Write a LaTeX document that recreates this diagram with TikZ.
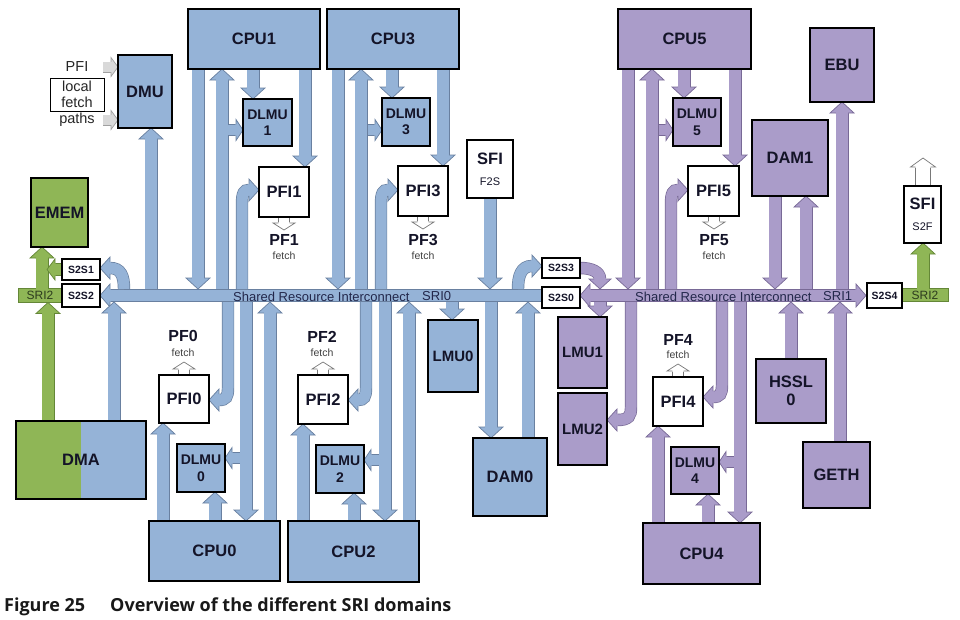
\documentclass[tikz,border=0pt]{standalone}
\usepackage{fontspec}
\setmainfont{Liberation Sans}
\newfontfamily\capfont{Open Sans}
\definecolor{bF}{RGB}{149,179,215}
\definecolor{bD}{RGB}{105,128,160}
\definecolor{pF}{RGB}{170,156,201}
\definecolor{pD}{RGB}{120,105,150}
\definecolor{gF}{RGB}{143,182,86}
\definecolor{gD}{RGB}{100,135,55}
\definecolor{yF}{RGB}{217,217,217}
\definecolor{yD}{RGB}{160,160,160}
\definecolor{wD}{RGB}{120,120,120}
\definecolor{txt}{RGB}{20,20,40}
\definecolor{busT}{RGB}{35,40,75}
\definecolor{grT}{RGB}{45,60,30}
\tikzset{
 bx/.style={draw=black, line width=1.3pt, inner sep=0pt, align=center, text=txt, font=\fontsize{16.5}{18}\selectfont\bfseries},
 dl/.style={font=\fontsize{14}{16.5}\selectfont\bfseries},
 ss/.style={line width=1.1pt, font=\fontsize{10.5}{12}\selectfont\bfseries},
 lm/.style={font=\fontsize{15}{17}\selectfont\bfseries},
 lbl/.style={inner sep=0pt, text=txt, font=\fontsize{16}{18}\selectfont\bfseries},
 fet/.style={inner sep=0pt, text=black!75, font=\fontsize{10.5}{12}\selectfont},
 bustxt/.style={inner sep=0pt, text=busT, font=\fontsize{13}{15}\selectfont, anchor=west},
 side/.style={inner sep=0pt, text=black!85, font=\fontsize{14.5}{16}\selectfont},
 captxt/.style={anchor=base west, inner sep=0pt, text=black!90, font=\capfont\bfseries\fontsize{18}{20}\selectfont},
}
% arrow head: fill, draw, x, y, angle, half body, half head, length
\newcommand{\Head}[8]{%
 \begin{scope}[shift={(#3,#4)},rotate=#5]
 \fill[#1] (-#8-0.8,-#6) -- (-#8,-#6) -- (-#8,-#7) -- (0,0) -- (-#8,#7) -- (-#8,#6) -- (-#8-0.8,#6) -- cycle;
 \draw[#2,line width=0.7pt,line join=miter] (-#8,-#6) -- (-#8,-#7) -- (0,0) -- (-#8,#7) -- (-#8,#6);
 \end{scope}}
% straight block arrow: fill, draw, x1,y1, x2,y2 (tip), half body, half head, head length
\newcommand{\SA}[9]{%
 \pgfmathsetmacro{\saL}{veclen(#5-#3,#6-#4)}%
 \pgfmathsetmacro{\saX}{#5-#9*(#5-#3)/\saL}%
 \pgfmathsetmacro{\saY}{#6-#9*(#6-#4)/\saL}%
 \pgfmathsetmacro{\saA}{atan2(#4-#6,#5-#3)}%
 \pgfmathsetmacro{\saD}{2*#7-1.4}%
 \pgfmathsetmacro{\saW}{#7-0.35}%
 \draw[draw=#2, double=#1, double distance=\saD pt, line width=0.7pt] (#3,#4) -- (\saX,\saY);
 \Head{#1}{#2}{#5}{#6}{\saA}{\saW}{#8}{#9}}
\newcommand{\VA}[4][b]{\SA{#1F}{#1D}{#2}{#3}{#2}{#4}{6.5}{12}{11}}
% curved block arrow: fill, draw, path, tip x, tip y, angle
\newcommand{\CA}[6]{%
 \draw[draw=#2,double=#1,double distance=11pt,line width=0.7pt] #3;
 \Head{#1}{#2}{#4}{#5}{#6}{5.85}{11}{10}}
\newcommand{\Bx}[7][]{\node[bx,#1,minimum width={#5-#3},minimum height={#6-#4}] (#2) at ({(#3+#5)/2},{(#4+#6)/2}) {#7};}
\begin{document}
\begin{tikzpicture}[x=1pt,y=-1pt]
\useasboundingbox (0,0) rectangle (960,619);
\fill[white] (0,0) rectangle (960,619);
% ---------- buses ----------
\draw[draw=bD,double=bF,double distance=11.6pt,line width=0.7pt] (542,295.5) -- (110,295.5);
\Head{bF}{bD}{100}{295.5}{180}{6.15}{11.5}{10}
\draw[draw=pD,double=pF,double distance=11.6pt,line width=0.7pt] (590,295.5) -- (856,295.5);
\Head{pF}{pD}{580}{295.5}{180}{6.15}{11.5}{10}
\Head{pF}{pD}{866}{295.5}{0}{6.15}{11.5}{10}
\draw[gD,fill=gF,line width=0.6pt] (18,288.5) rectangle (62,302.5);
\draw[gD,fill=gF,line width=0.6pt] (902,288.5) rectangle (948,301.5);
% ---------- blue arrows above SRI0 ----------
\VA{198}{69}{289}
\VA{222}{289}{69}
\VA{253}{69}{99}
\VA{305}{69}{167}
\SA{bF}{bD}{228}{130}{243}{130}{6}{10.5}{7}
\CA{bF}{bD}{(242,289) -- (242,204) .. controls (242,193) and (244,190) .. (249,190)}{259}{190}{0}
\VA{338}{69}{289}
\VA{361}{289}{69}
\VA{392}{69}{98}
\VA{443}{69}{166}
\SA{bF}{bD}{367.5}{130}{382}{130}{6}{10.5}{7}
\CA{bF}{bD}{(381,289) -- (381,204) .. controls (381,193) and (383,190) .. (388,190)}{398}{190}{0}
\VA{151}{289}{128}
\VA{490}{198}{289}
\CA{bF}{bD}{(124,289) .. controls (124,276) and (121,268) .. (110,268)}{100}{268}{180}
\CA{bF}{bD}{(518,289) .. controls (518,276) and (521,266) .. (532,266)}{542}{266}{0}
% ---------- blue arrows below SRI0 ----------
\VA{114}{421}{302}
\CA{bF}{bD}{(228,302) -- (228,388) .. controls (228,397) and (226,400) .. (219,400)}{209}{400}{180}
\VA{246}{302}{521}
\SA{bF}{bD}{239.5}{458}{225}{458}{6}{10.5}{7}
\VA{270}{521}{302}
\VA{163}{521}{423}
\VA{215}{521}{492}
\CA{bF}{bD}{(366,302) -- (366,388) .. controls (366,397) and (364,400) .. (358,400)}{348}{400}{180}
\VA{385}{302}{521}
\SA{bF}{bD}{378.5}{460}{364}{460}{6}{10.5}{7}
\VA{409}{521}{302}
\VA{303}{521}{424}
\VA{354}{521}{493}
\VA{452}{302}{320}
\VA{491}{302}{438}
\VA{528}{438}{302}
% ---------- purple arrows ----------
\VA[p]{628}{69}{289}
\VA[p]{652}{289}{69}
\VA[p]{684}{69}{98}
\VA[p]{735}{69}{166}
\SA{pF}{pD}{658.5}{130}{673}{130}{6}{10.5}{7}
\CA{pF}{pD}{(671,289) -- (671,204) .. controls (671,193) and (673,190) .. (678,190)}{688}{190}{0}
\VA[p]{775}{196}{289}
\VA[p]{806}{289}{196}
\VA[p]{842}{289}{102}
\CA{pF}{pD}{(580,268) .. controls (592,268) and (600,272) .. (600,279)}{600}{289}{-90}
\VA[p]{600}{302}{317}
\CA{pF}{pD}{(631,302) -- (631,407) .. controls (631,416) and (629,420) .. (617,420)}{607}{420}{180}
\CA{pF}{pD}{(722,302) -- (722,385) .. controls (722,394) and (720,397) .. (713,397)}{703}{397}{180}
\VA[p]{740}{302}{523}
\SA{pF}{pD}{733.5}{462}{719}{462}{6}{10.5}{7}
\VA[p]{658}{523}{426}
\VA[p]{708}{523}{494}
\VA[p]{791}{359}{302}
\VA[p]{840}{442}{302}
% ---------- green arrows ----------
\VA[g]{42}{288.5}{247}
\VA[g]{48}{421}{302.5}
\SA{gF}{gD}{62}{269.5}{47}{269.5}{6.5}{10.5}{8}
\VA[g]{923}{288.5}{243}
% ---------- white fetch arrows ----------
\SA{white}{wD}{284}{217}{284}{230}{6}{11}{7}
\SA{white}{wD}{423}{216}{423}{229}{6}{11}{7}
\SA{white}{wD}{714}{216}{714}{229}{6}{11}{7}
\SA{white}{wD}{184}{375}{184}{362}{6}{11}{7}
\SA{white}{wD}{323}{375}{323}{362}{6}{11}{7}
\SA{white}{wD}{678}{377}{678}{364}{6}{11}{7}
\SA{white}{wD}{923}{186}{923}{158}{8}{12.5}{9}
% ---------- gray arrows into DMU ----------
\SA{yF}{yD}{103}{67}{118}{67}{5.5}{9.5}{7}
\SA{yF}{yD}{103}{120}{118}{120}{5.5}{9.5}{7}
% ---------- boxes ----------
\fill[gF] (16,421) rectangle (81,499);
\fill[bF] (81,421) rectangle (146,499);
\Bx{dma}{16}{421}{146}{499}{DMA}
\Bx[fill=bF]{cpu1}{188}{9}{320}{69}{CPU1}
\Bx[fill=bF]{cpu3}{327}{9}{459}{69}{CPU3}
\Bx[fill=pF]{cpu5}{618}{9}{751}{69}{CPU5}
\Bx[fill=bF]{dmu}{118}{55}{172}{128}{DMU}
\Bx[fill=gF]{emem}{31}{178}{88}{247}{EMEM}
\Bx[fill=bF,dl]{dlmu1}{243}{99}{292}{146}{DLMU\\1}
\Bx[fill=bF,dl]{dlmu3}{382}{98}{430}{146}{DLMU\\3}
\Bx[fill=pF,dl]{dlmu5}{673}{98}{721}{146}{DLMU\\5}
\Bx[fill=white]{pfi1}{259}{167}{309}{217}{PFI1}
\Bx[fill=white]{pfi3}{398}{166}{448}{216}{PFI3}
\Bx[fill=white]{pfi5}{688}{166}{739}{216}{PFI5}
\Bx[fill=white]{sfif}{467}{140}{513}{198}{SFI\\[3pt]{\fontsize{11}{12}\selectfont\mdseries F2S}}
\Bx[fill=pF]{dam1}{752}{120}{828}{196}{DAM1}
\Bx[fill=pF]{ebu}{810}{28}{874}{102}{EBU}
\Bx[fill=white,ss]{s2s1}{62}{259}{100}{280}{S2S1}
\Bx[fill=white,ss]{s2s2}{62}{284}{100}{307}{S2S2}
\Bx[fill=white,ss]{s2s3}{542}{258}{580}{278}{S2S3}
\Bx[fill=white,ss]{s2s0}{542}{287}{580}{308}{S2S0}
\Bx[fill=white,ss]{s2s4}{867}{283}{902}{308}{S2S4}
\Bx[fill=white]{sfis}{904}{186}{941}{243}{SFI\\[3pt]{\fontsize{11}{12}\selectfont\mdseries S2F}}
\Bx[fill=white]{pfi0}{159}{375}{209}{423}{PFI0}
\Bx[fill=white]{pfi2}{298}{375}{348}{424}{PFI2}
\Bx[fill=white]{pfi4}{653}{377}{703}{426}{PFI4}
\Bx[fill=bF,dl]{dlmu0}{177}{444}{225}{492}{DLMU\\0}
\Bx[fill=bF,dl]{dlmu2}{316}{445}{364}{493}{DLMU\\2}
\Bx[fill=pF,dl]{dlmu4}{671}{447}{719}{494}{DLMU\\4}
\Bx[fill=bF]{cpu0}{149}{521}{280}{581}{CPU0}
\Bx[fill=bF]{cpu2}{288}{521}{419}{582}{CPU2}
\Bx[fill=pF]{cpu4}{643}{523}{760}{584}{CPU4}
\Bx[fill=bF,lm]{lmu0}{428}{320}{478}{392}{LMU0}
\Bx[fill=pF,lm]{lmu1}{558}{317}{607}{388}{LMU1}
\Bx[fill=pF,lm]{lmu2}{558}{393}{607}{465}{LMU2}
\Bx[fill=bF]{dam0}{473}{438}{547}{516}{DAM0}
\Bx[fill=pF]{hssl}{756}{359}{826}{423}{HSSL\\0}
\Bx[fill=pF]{geth}{803}{442}{870}{508}{GETH}
% ---------- side labels ----------
\node[side] (pfil) at (77,67) {PFI};
\node[side,draw=black,line width=0.9pt,minimum width=54,minimum height=33,align=center] (lfp) at (77,94.5) {local\\fetch};
\node[side] (paths) at (77,120) {paths};
% ---------- PF labels ----------
\node[lbl] (pf1) at (284,240) {PF1}; \node[fet] (f1) at (284,256) {fetch};
\node[lbl] (pf3) at (423,240) {PF3}; \node[fet] (f3) at (423,256) {fetch};
\node[lbl] (pf5) at (714,240) {PF5}; \node[fet] (f5) at (714,256) {fetch};
\node[lbl] (pf0) at (183,336) {PF0}; \node[fet] (f0) at (183,353) {fetch};
\node[lbl] (pf2) at (322,337) {PF2}; \node[fet] (f2) at (322,353) {fetch};
\node[lbl] (pf4) at (678,340) {PF4}; \node[fet] (f4) at (678,355) {fetch};
% ---------- bus texts ----------
\node[bustxt] (sri0a) at (233,296.5) {Shared Resource Interconnect};
\node[bustxt] (sri0b) at (422,296.5) {SRI0};
\node[bustxt] (sri1a) at (635,296.5) {Shared Resource Interconnect};
\node[bustxt] (sri1b) at (823,296.5) {SRI1};
\node[inner sep=0pt,text=grT,font=\fontsize{12}{14}\selectfont] (sri2l) at (40,295.5) {SRI2};
\node[inner sep=0pt,text=grT,font=\fontsize{12}{14}\selectfont] (sri2r) at (925,295) {SRI2};
% ---------- caption ----------
\node[captxt] (cap1) at (4,611) {Figure 25};
\node[captxt] (cap2) at (110,611) {Overview of the different SRI domains};
\end{tikzpicture}
\end{document}
